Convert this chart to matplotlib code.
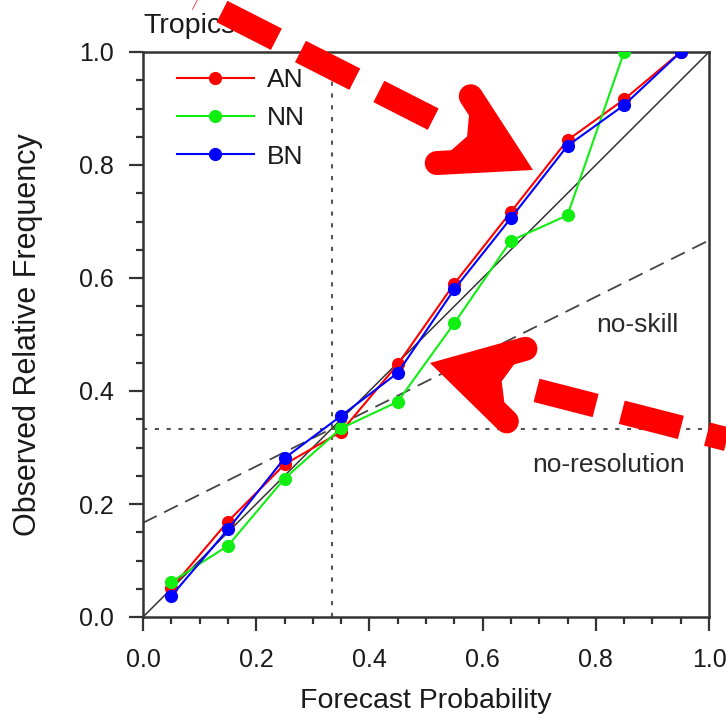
import matplotlib
matplotlib.use('Agg')
import matplotlib.pyplot as plt
import numpy as np
from matplotlib.lines import Line2D
from matplotlib.patches import Polygon
from matplotlib.ticker import MultipleLocator, FormatStrFormatter

plt.rcParams['font.family'] = ['Liberation Sans', 'DejaVu Sans']
plt.rcParams['lines.scale_dashes'] = False

# ---------------- data ----------------
prob = [0.05, 0.15, 0.25, 0.35, 0.45, 0.55, 0.65, 0.75, 0.85, 0.95]
an = [0.051, 0.169, 0.270, 0.328, 0.447, 0.590, 0.717, 0.844, 0.916, 1.000]
nn = [0.062, 0.126, 0.245, 0.334, 0.381, 0.520, 0.666, 0.711, 1.000]
bn = [0.037, 0.155, 0.281, 0.356, 0.432, 0.580, 0.706, 0.834, 0.906, 1.000]
clim = 1.0 / 3.0
series_names = ['AN', 'NN', 'BN']
series_colors = ['#ff0000', '#11ee11', '#0000ff']

W, H = 726, 716
fig = plt.figure(figsize=(W / 100, H / 100), dpi=100)
ax = fig.add_axes([143 / W, 1 - 617 / H, 566 / W, 565 / H])

txtcol = '#1a1a1a'
# reference lines
ax.plot([0, 1], [0, 1], color='#333333', lw=1.1, zorder=2)
xs = np.array([0.0, 1.0])
ax.plot(xs, (xs + clim) / 2, color='#444444', lw=1.3, linestyle=(0, (11, 6)), zorder=2)
ax.axhline(clim, color='#555555', lw=1.5, linestyle=(0, (3, 5.5)), zorder=2)
ax.axvline(clim, color='#555555', lw=1.5, linestyle=(0, (3, 5.5)), zorder=2)

for name, vals, col in zip(series_names, [an, nn, bn], series_colors):
    ax.plot(prob[:len(vals)], vals, color=col, lw=1.5, marker='o', ms=9.5,
            markeredgewidth=0, label=name, zorder=3)

ax.text(0.874, 0.505, 'no-skill', ha='center', va='baseline', fontsize=19, color='#2a2a2a')
ax.text(0.823, 0.257, 'no-resolution', ha='center', va='baseline', fontsize=19, color='#2a2a2a')
ax.text(0.0, 1.0 + 19 / 565, 'Tropics', ha='left', va='baseline', fontsize=20.5, color=txtcol,
        transform=ax.transAxes)

leg = ax.legend(loc='upper left', bbox_to_anchor=(34 / 566, 1 - 16 / 565), frameon=False,
                fontsize=19, handlelength=2.9, handletextpad=0.5, labelspacing=0.54,
                borderpad=0, borderaxespad=0)
for t in leg.get_texts():
    t.set_color(txtcol)

ax.set_xlim(0, 1)
ax.set_ylim(0, 1)
ax.xaxis.set_major_locator(MultipleLocator(0.2))
ax.yaxis.set_major_locator(MultipleLocator(0.2))
ax.xaxis.set_minor_locator(MultipleLocator(0.05))
ax.yaxis.set_minor_locator(MultipleLocator(0.05))
ax.xaxis.set_major_formatter(FormatStrFormatter('%.1f'))
ax.yaxis.set_major_formatter(FormatStrFormatter('%.1f'))
ax.tick_params(which='both', direction='out', top=False, right=False, width=1.6, color='#333333')
ax.tick_params(which='major', length=10, labelsize=18, labelcolor=txtcol)
ax.tick_params(axis='x', which='major', pad=12)
ax.tick_params(axis='y', which='major', pad=11)
ax.tick_params(which='minor', length=5)
for s in ax.spines.values():
    s.set_linewidth(1.8)
    s.set_color('#333333')
ax.set_xlabel('Forecast Probability', fontsize=20.5, color=txtcol)
ax.xaxis.label.set_va('baseline')
ax.xaxis.set_label_coords(0.5, (617 - 708) / 565)
ax.set_ylabel('Observed Relative Frequency', fontsize=22, color=txtcol)
ax.yaxis.set_label_coords((43 - 143) / 566, 0.5)


# ---------------- red dashed annotation arrows (pixel geometry) ----------------
def px(p):
    return (p[0] / W, 1 - p[1] / H)


def draw_arrow(tip, direction, shaft_gap_end, shaft_len):
    d = np.array(direction, float)
    d /= np.linalg.norm(d)
    tip = np.array(tip, float)
    lw = 24 * 0.72
    vertex = tip - 24 * d
    ang = np.deg2rad(30)
    back = -d
    arms = []
    for s in (1, -1):
        c, si = np.cos(s * ang), np.sin(s * ang)
        r = np.array([back[0] * c - back[1] * si, back[0] * si + back[1] * c])
        arms.append(vertex + 75 * r)
    notch = vertex - 50 * d
    poly = [px(p) for p in (vertex, arms[0], notch, arms[1])]
    fig.add_artist(Polygon(poly, closed=True, transform=fig.transFigure,
                           facecolor='#ff0000', edgecolor='none', zorder=10))
    pts = [arms[0], vertex, arms[1]]
    xy = [px(p) for p in pts]
    fig.add_artist(Line2D([p[0] for p in xy], [p[1] for p in xy], transform=fig.transFigure,
                          color='#ff0000', lw=lw, solid_joinstyle='miter',
                          solid_capstyle='round', zorder=10))
    s0 = vertex - shaft_gap_end * d
    s1 = s0 - shaft_len * d
    a, b = px(s0), px(s1)
    fig.add_artist(Line2D([a[0], b[0]], [a[1], b[1]], transform=fig.transFigure,
                          color='#ff0000', lw=lw, linestyle=(0, (61 * 0.72, 27 * 0.72)),
                          dash_capstyle='butt', zorder=10))


draw_arrow((533, 170), (0.891, 0.454), 88, 500)
draw_arrow((430, 363), (-0.9686, -0.2487), 86, 400)

fig.savefig('out.png', dpi=100)
